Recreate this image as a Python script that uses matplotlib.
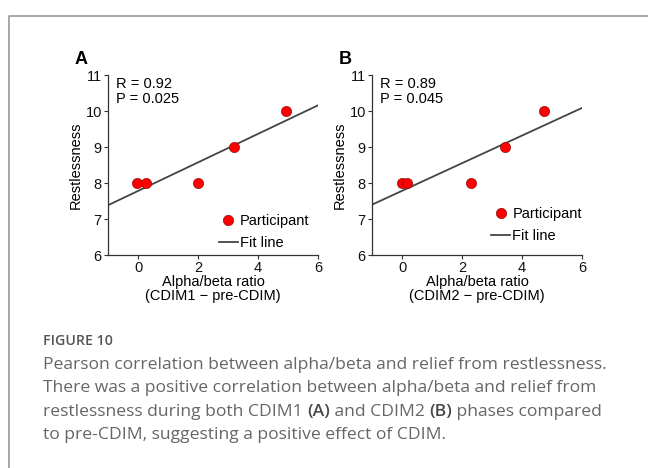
import numpy as np
import matplotlib.pyplot as plt
from matplotlib.lines import Line2D
from matplotlib.text import Annotation

plt.rcParams['font.family'] = ['Liberation Sans', 'DejaVu Sans']

# panel A: CDIM1 - pre-CDIM
A_X = [-0.05, 0.25, 2.0, 3.2, 4.95]
A_Y = [8, 8, 8, 9, 10]
A_STATS = ['R = 0.92', 'P = 0.025']
# panel B: CDIM2 - pre-CDIM
B_X = [0.0, 0.15, 2.3, 3.45, 4.75]
B_Y = [8, 8, 8, 9, 10]
B_STATS = ['R = 0.89', 'P = 0.045']

XTICKS = [0, 2, 4, 6]
YTICKS = [6, 7, 8, 9, 10, 11]

RED = '#ff0000'
LINECOL = '#444444'
SPINE = '#333333'
CAPCOL = '#666666'
FS = 10.5

fig = plt.figure(figsize=(6.48, 4.68), dpi=100)

panels = [('A', A_X, A_Y, A_STATS, '(CDIM1 \u2212 pre-CDIM)', 0.1667, (0.96, 0.028)),
          ('B', B_X, B_Y, B_STATS, '(CDIM2 \u2212 pre-CDIM)', 0.5741, (1.0, 0.067))]

for letter, xs, ys, stats, sub, left, legpos in panels:
    ax = fig.add_axes([left, 0.4551, 0.324, 0.3846])
    ax.set_xlim(-1, 6)
    ax.set_ylim(6, 11)
    # least squares fit line over the full x range
    k, b = np.polyfit(xs, ys, 1)
    fx = np.array([-1, 6])
    ax.plot(fx, k * fx + b, color=LINECOL, lw=1.3, zorder=2)
    ax.scatter(xs, ys, s=55, c=RED, edgecolors='#7a0000', linewidths=0.4, zorder=3, clip_on=False)

    for side in ['top', 'right']:
        ax.spines[side].set_visible(False)
    for side in ['left', 'bottom']:
        ax.spines[side].set_color(SPINE)
        ax.spines[side].set_linewidth(0.9)
    ax.set_xticks(XTICKS)
    ax.set_yticks(YTICKS)
    ax.tick_params(direction='out', length=3, width=0.8, colors=SPINE, labelcolor='#111111',
                   labelsize=FS, pad=1.5)
    ax.set_ylabel('Restlessness', fontsize=FS, labelpad=2)
    ax.set_xlabel('Alpha/beta ratio\n' + sub, fontsize=FS, labelpad=0, linespacing=1.0)

    ax.text(0.038, 0.99, stats[0] + '\n' + stats[1], transform=ax.transAxes,
            ha='left', va='top', fontsize=FS, linespacing=1.15)

    handles = [Line2D([], [], ls='none', marker='o', ms=7.5, mfc=RED, mec='#7a0000', mew=0.4),
               Line2D([], [], color=LINECOL, lw=1.3)]
    ax.legend(handles, ['Participant', 'Fit line'], loc='lower right', bbox_to_anchor=legpos,
              bbox_transform=ax.transAxes, frameon=False, fontsize=FS, handlelength=1.3,
              handletextpad=0.15, borderpad=0, labelspacing=0.55, borderaxespad=0)

    fig.text(left - 0.052, 0.855, letter, fontsize=13, fontweight='bold', ha='left', va='bottom')

# frame of the figure box
fig.add_artist(Line2D([9 / 648, 9 / 648, 1.0], [0.0, 1 - 16 / 468, 1 - 16 / 468],
                      transform=fig.transFigure, color='#a0a0a0', lw=1.3))

# caption
cap_font = ['Open Sans', 'DejaVu Sans']
fig.text(43 / 648, 1 - 345 / 468, 'FIGURE 10', fontsize=10.2, fontweight='semibold',
         color='#555555', family=cap_font, va='baseline')
lines = [
    [('Pearson correlation between alpha/beta and relief from restlessness.', 'normal')],
    [('There was a positive correlation between alpha/beta and relief from', 'normal')],
    [('restlessness during both CDIM1 ', 'normal'), ('(A)', 'semibold'), (' and CDIM2 ', 'normal'),
     ('(B)', 'semibold'), (' phases compared', 'normal')],
    [('to pre-CDIM, suggesting a positive effect of CDIM.', 'normal')],
]
baselines = [369, 392, 415.5, 439]
for parts, yb in zip(lines, baselines):
    prev = None
    for s, w in parts:
        col = '#484848' if w != 'normal' else CAPCOL
        if prev is None:
            prev = fig.text(43 / 648, 1 - yb / 468, s, fontsize=12.6, color=col, family=cap_font,
                            fontweight=w, va='baseline', ha='left')
        else:
            # continue the line right after the previous piece
            prev = fig.add_artist(Annotation(s, xy=(1, 0), xycoords=prev, xytext=(0, 0),
                                             textcoords='offset points', fontsize=12.6, color=col,
                                             family=cap_font, fontweight=w, va='bottom', ha='left',
                                             annotation_clip=False))

fig.savefig('out.png', dpi=100)
